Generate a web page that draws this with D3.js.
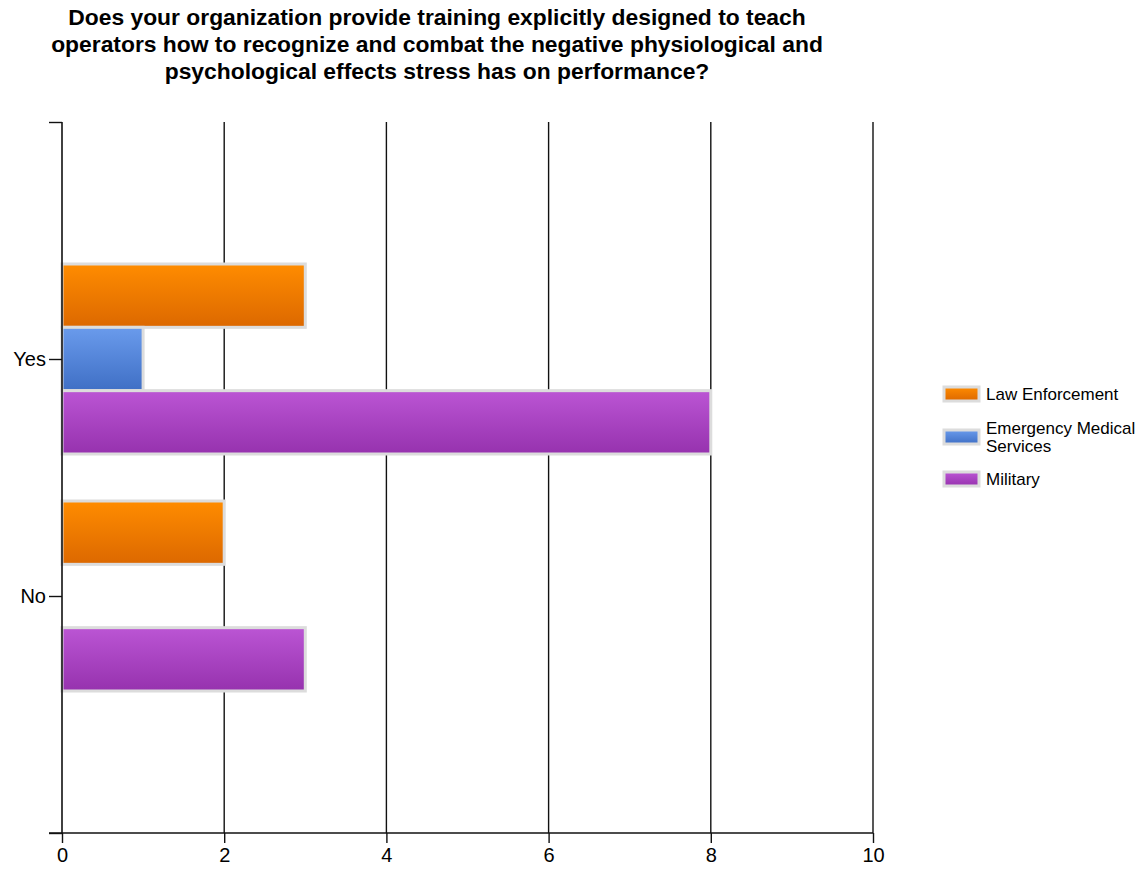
<!DOCTYPE html>
<html>
<head>
<meta charset="utf-8">
<script src="https://cdn.jsdelivr.net/npm/d3@7"></script>
<style>
  html, body { margin: 0; padding: 0; background: #fff; }
  svg { display: block; }
</style>
</head>
<body>
<svg id="chart" width="1144" height="869"></svg>
<script>
// ---- data ----
const titleLines = [
  "Does your organization provide training explicitly designed to teach",
  "operators how to recognize and combat the negative physiological and",
  "psychological effects stress has on performance?"
];
const categories = ["Yes", "No"];
const seriesNames = ["Law Enforcement", "Emergency Medical Services", "Military"];
const legendLabels = [["Law Enforcement"], ["Emergency Medical", "Services"], ["Military"]];
const lawEnforcement = [3, 2];
const emergencyMedical = [1, 0];
const military = [8, 3];
const xTicks = [0, 2, 4, 6, 8, 10];
const seriesColors = [
  ["#ff8c00", "#dc6800"],
  ["#6a9bec", "#3f6fc5"],
  ["#bb55d4", "#9632ae"]
];

const values = [lawEnforcement, emergencyMedical, military];

const svg = d3.select("#chart");
const font = "'Liberation Sans', Arial, sans-serif";

// gradients
const defs = svg.append("defs");
seriesColors.forEach((c, i) => {
  const g = defs.append("linearGradient").attr("id", "grad" + i)
    .attr("x1", 0).attr("y1", 0).attr("x2", 0).attr("y2", 1);
  g.append("stop").attr("offset", "0%").attr("stop-color", c[0]);
  g.append("stop").attr("offset", "100%").attr("stop-color", c[1]);
});

// scales
const x = d3.scaleLinear().domain([0, 10]).range([62, 873]);
const y = d3.scaleLinear().domain([0, 3]).range([122, 833]);
const catPos = d3.scaleOrdinal().domain(categories).range([1, 2]);
const inner = d3.scaleBand().domain(seriesNames).range([-95, 95]).padding(0);

// title
const title = svg.append("g").attr("font-family", font).attr("font-weight", "bold")
  .attr("fill", "#000").attr("text-anchor", "middle");
const tl = title.selectAll("text").data(titleLines).join("text")
  .attr("x", 437).attr("y", (d, i) => 25 + i * 27)
  .attr("font-size", 20).text(d => d);
const w0 = tl.nodes()[0].getComputedTextLength();
const fs = 20 * 738 / w0;
tl.attr("font-size", fs);

// gridlines
svg.append("g").selectAll("line").data(xTicks.filter(d => d > 0)).join("line")
  .attr("x1", d => x(d)).attr("x2", d => x(d))
  .attr("y1", y(0)).attr("y2", y(3))
  .attr("stroke", "#111").attr("stroke-width", 1.4);

// bars
const bars = svg.append("g");
categories.forEach((cat, ci) => {
  seriesNames.forEach((s, si) => {
    const v = values[si][ci];
    if (v <= 0) return;
    const y0 = y(catPos(cat)) + inner(s);
    bars.append("rect")
      .attr("x", x(0)).attr("y", y0)
      .attr("width", x(v) - x(0)).attr("height", inner.bandwidth())
      .attr("fill", "url(#grad" + si + ")")
      .attr("stroke", "#dcdcdc").attr("stroke-width", 3);
  });
});

// x axis
const xAxis = svg.append("g").attr("transform", `translate(0,${y(3)})`)
  .call(d3.axisBottom(x).tickValues(xTicks).tickSize(10).tickPadding(5).tickFormat(d3.format("d")));
xAxis.select(".domain").remove();
xAxis.append("line").attr("x1", 49).attr("x2", x(10)).attr("y1", 0).attr("y2", 0)
  .attr("stroke", "#111").attr("stroke-width", 1.4);
xAxis.selectAll(".tick line").attr("stroke", "#111").attr("stroke-width", 1.4);
xAxis.selectAll(".tick text").attr("font-family", font).attr("font-size", 20).attr("fill", "#000");

// y axis
const yAxis = svg.append("g").attr("transform", `translate(${x(0)},0)`)
  .call(d3.axisLeft(y).tickValues([0, 1, 2, 3]).tickSize(13).tickPadding(3)
    .tickFormat(d => d === 1 ? categories[0] : d === 2 ? categories[1] : ""));
yAxis.select(".domain").remove();
yAxis.append("line").attr("x1", 0).attr("x2", 0).attr("y1", y(0)).attr("y2", y(3))
  .attr("stroke", "#111").attr("stroke-width", 1.6);
yAxis.selectAll(".tick line").attr("stroke", "#111").attr("stroke-width", 1.4);
yAxis.selectAll(".tick text").attr("font-family", font).attr("font-size", 20).attr("fill", "#000");

// legend
const legendY = [394, 437, 479];
const lg = svg.append("g").attr("font-family", font).attr("font-size", 17).attr("fill", "#000");
legendLabels.forEach((lines, i) => {
  const cy = legendY[i];
  lg.append("rect").attr("x", 944).attr("y", cy - 7).attr("width", 35).attr("height", 14)
    .attr("fill", "url(#grad" + i + ")").attr("stroke", "#dcdcdc").attr("stroke-width", 3);
  const n = lines.length;
  lines.forEach((t, j) => {
    lg.append("text").attr("x", 986).attr("y", cy + (j - (n - 1) / 2) * 18)
      .attr("dy", "0.35em").text(t);
  });
});
</script>
</body>
</html>
